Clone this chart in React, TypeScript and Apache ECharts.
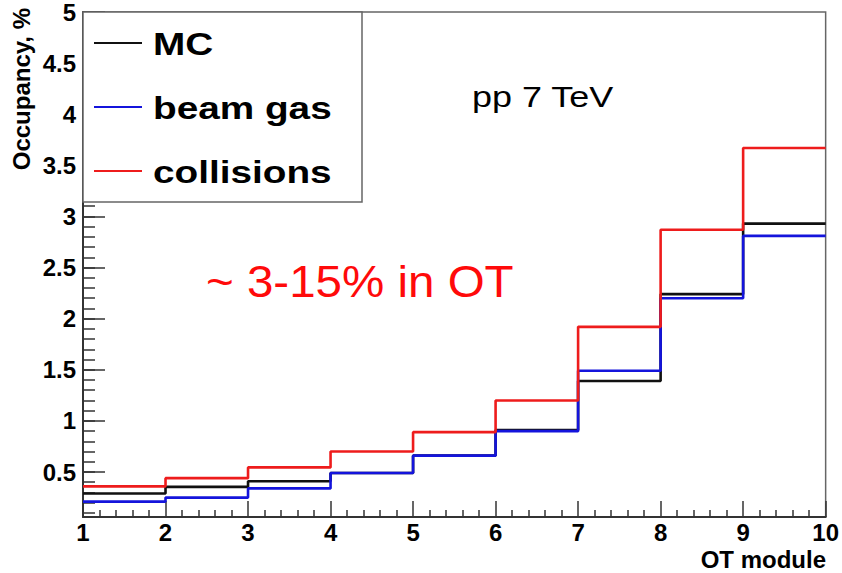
import React, { useEffect, useRef } from "react";
import * as echarts from "echarts";

// Bin edges of the OT module histogram and per-bin occupancies (%)
const binEdges = [1, 2, 3, 4, 5, 6, 7, 8, 9, 10];
const mcValues = [0.29, 0.355, 0.41, 0.49, 0.66, 0.91, 1.39, 2.24, 2.93];
const beamGasValues = [0.21, 0.25, 0.34, 0.49, 0.66, 0.9, 1.49, 2.2, 2.81];
const collisionValues = [0.36, 0.44, 0.545, 0.7, 0.89, 1.2, 1.92, 2.87, 3.67];

const seriesNames = ["MC", "beam gas", "collisions"];
const seriesColors = ["#111111", "#1414dc", "#ee1c1c"];

const yMajorTicks = [0.5, 1, 1.5, 2, 2.5, 3, 3.5, 4, 4.5, 5];
const yMinorTicks = Array.from({ length: 49 }, (_, i) => Number(((i + 1) / 10).toFixed(1)));

const Y_MIN = 0.06;
const Y_MAX = 5;

const BOLD = "Liberation Sans, Arial, Helvetica, sans-serif";

// Turn per-bin values into step-line points: each bin starts at its low edge,
// and the last bin is closed at the upper edge.
function stepPoints(values: number[]): [number, number][] {
  const pts: [number, number][] = values.map((v, i) => [binEdges[i], v]);
  pts.push([binEdges[binEdges.length - 1], values[values.length - 1]]);
  return pts;
}

export default function App() {
  const ref = useRef<HTMLDivElement>(null);

  useEffect(() => {
    document.body.style.margin = "0";
    if (!ref.current) return;
    const chart = echarts.init(ref.current, undefined, { renderer: "svg" });

    const allValues = [mcValues, beamGasValues, collisionValues];

    const legendTop = [44, 108, 172];

    chart.setOption({
      animation: false,
      backgroundColor: "#ffffff",
      grid: {
        left: 83,
        right: 15,
        top: 12,
        bottom: 56,
        show: true,
        borderColor: "#666666",
        borderWidth: 1.5,
        backgroundColor: "transparent",
      },
      xAxis: {
        type: "value",
        min: 1,
        max: 10,
        interval: 1,
        axisLine: { show: true, lineStyle: { color: "#333333", width: 2 } },
        axisTick: { show: true, inside: true, length: 16, lineStyle: { color: "#333333", width: 1.5 } },
        minorTick: { show: true, splitNumber: 5, length: 7, lineStyle: { color: "#333333", width: 1.5 } },
        axisLabel: {
          color: "#000000",
          fontFamily: BOLD,
          fontWeight: "bold",
          fontSize: 24,
          margin: 3,
        },
        splitLine: { show: false },
      },
      yAxis: [
        {
          type: "value",
          min: Y_MIN,
          max: Y_MAX,
          axisLine: { show: true, lineStyle: { color: "#333333", width: 2 } },
          axisTick: {
            show: true,
            inside: true,
            length: 22,
            customValues: yMajorTicks,
            lineStyle: { color: "#333333", width: 1.5 },
          },
          axisLabel: {
            color: "#000000",
            fontFamily: BOLD,
            fontWeight: "bold",
            fontSize: 24,
            margin: 7,
            customValues: yMajorTicks,
          },
          splitLine: { show: false },
        },
        {
          type: "value",
          min: Y_MIN,
          max: Y_MAX,
          position: "left",
          axisLine: { show: false },
          axisTick: {
            show: true,
            inside: true,
            length: 12,
            customValues: yMinorTicks,
            lineStyle: { color: "#333333", width: 1.5 },
          },
          axisLabel: { show: false },
          splitLine: { show: false },
        },
      ],
      series: allValues.map((vals, i) => ({
        name: seriesNames[i],
        type: "line",
        step: "end",
        yAxisIndex: 0,
        showSymbol: false,
        symbol: "none",
        data: stepPoints(vals),
        lineStyle: { color: seriesColors[i], width: 2.6 },
        itemStyle: { color: seriesColors[i] },
        z: 2 + i,
      })),
      graphic: [
        // Legend box in the upper-left corner of the frame
        {
          type: "rect",
          z: 100,
          shape: { x: 83, y: 12, width: 279, height: 190 },
          style: { fill: "#ffffff", stroke: "#666666", lineWidth: 1.5 },
        },
        ...seriesNames.flatMap((name, i) => [
          {
            type: "line",
            z: 101,
            shape: { x1: 94, y1: legendTop[i] - 1, x2: 142, y2: legendTop[i] - 1 },
            style: { stroke: seriesColors[i], lineWidth: 2.2 },
          },
          {
            type: "text",
            z: 101,
            x: 153,
            y: legendTop[i],
            scaleX: 1.25,
            style: {
              text: name,
              fill: "#000000",
              font: `bold 31px ${BOLD}`,
              textAlign: "left",
              textVerticalAlign: "middle",
            },
          },
        ]),
        {
          type: "text",
          z: 101,
          x: 472,
          y: 97,
          scaleX: 1.24,
          style: {
            text: "pp 7 TeV",
            fill: "#000000",
            font: `29px ${BOLD}`,
            textAlign: "left",
            textVerticalAlign: "middle",
          },
        },
        {
          type: "text",
          z: 101,
          x: 206,
          y: 282,
          scaleX: 1.08,
          style: {
            text: "~ 3-15% in OT",
            fill: "#ff0a0a",
            font: `44px ${BOLD}`,
            textAlign: "left",
            textVerticalAlign: "middle",
          },
        },
        {
          type: "text",
          z: 101,
          x: 21,
          y: 8,
          rotation: Math.PI / 2,
          style: {
            text: "Occupancy, %",
            fill: "#000000",
            font: `bold 24px ${BOLD}`,
            textAlign: "right",
            textVerticalAlign: "middle",
          },
        },
        {
          type: "text",
          z: 101,
          x: 826,
          y: 559,
          style: {
            text: "OT module",
            fill: "#000000",
            font: `bold 24px ${BOLD}`,
            textAlign: "right",
            textVerticalAlign: "middle",
          },
        },
      ],
    });

    return () => chart.dispose();
  }, []);

  return <div ref={ref} style={{ width: 842, height: 573 }} />;
}
